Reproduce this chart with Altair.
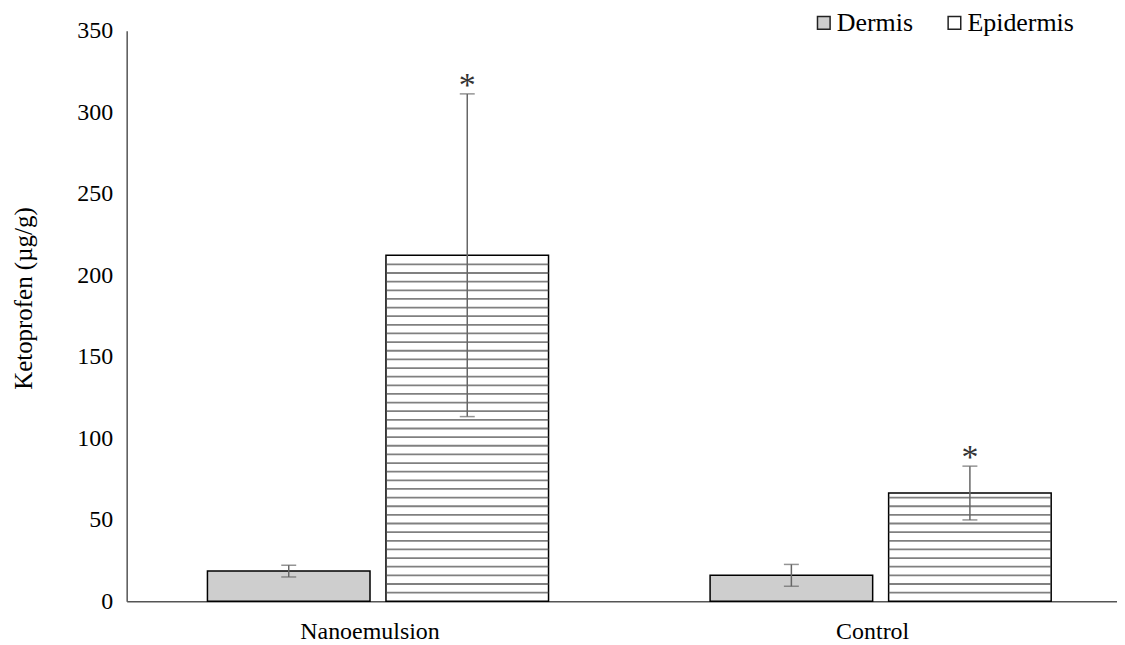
import altair as alt
import pandas as pd

categories = ["Nanoemulsion", "Nanoemulsion", "Control", "Control"]
tissues = ["Dermis", "Epidermis", "Dermis", "Epidermis"]
means = [18.5, 212.3, 15.9, 66.4]
sds = [3.6, 99.0, 6.7, 16.5]
stars = ["", "*", "", "*"]

group_order = ["Nanoemulsion", "Control"]
tissue_order = ["Dermis", "Epidermis"]
tick_values = [0, 50, 100, 150, 200, 250, 300, 350]

df = pd.DataFrame({
    "Category": categories,
    "Tissue": tissues,
    "Mean": means,
    "SD": sds,
    "Star": stars,
})
df["lo"] = df["Mean"] - df["SD"]
df["hi"] = df["Mean"] + df["SD"]

FONT = "Liberation Serif"
AX = "#555555"

x_scale = alt.Scale(domain=group_order, paddingInner=0.3214, paddingOuter=0.1458, align=0.551)
xo_scale = alt.Scale(domain=tissue_order, paddingInner=0.0894, paddingOuter=0)
y_scale = alt.Scale(domain=[0, 350], nice=False)

x_enc = alt.X("Category:N", scale=x_scale, sort=group_order,
              axis=alt.Axis(title=None, labelAngle=0, ticks=False, labelFontSize=24,
                            labelFont=FONT, labelColor="black", domainColor=AX,
                            domainWidth=1.5, labelPadding=18, labelOffset=-8))
xo_enc = alt.XOffset("Tissue:N", scale=xo_scale, sort=tissue_order)

bars = alt.Chart(df).mark_bar(stroke="black", strokeWidth=1.5).encode(
    x=x_enc,
    xOffset=xo_enc,
    y=alt.Y("Mean:Q", scale=y_scale,
            axis=alt.Axis(title="Ketoprofen (µg/g)", values=tick_values, grid=False,
                          ticks=False, labelFontSize=24, labelFont=FONT,
                          labelColor="black", titleFont=FONT, titleFontSize=25,
                          titleFontWeight="normal", titleColor="black",
                          titleX=-95, titleY=268, titleBaseline="alphabetic",
                          labelPadding=14, domainColor=AX, domainWidth=1.5)),
    fill=alt.Fill("Tissue:N", scale=alt.Scale(domain=tissue_order, range=["#cecece", "white"]),
                  legend=alt.Legend(title=None, orient="none", legendX=686, legendY=-21,
                                    direction="horizontal", symbolType="square",
                                    symbolSize=160, symbolStrokeColor="#222",
                                    symbolStrokeWidth=1.5, labelFont=FONT,
                                    labelFontSize=26, labelColor="black",
                                    labelOffset=0, columnPadding=28)),
)

stripes = alt.Chart(df).transform_filter(
    "datum.Tissue == 'Epidermis'"
).transform_calculate(
    ys="sequence(5.3, datum.Mean - 1, 5.3)"
).transform_flatten(["ys"]).mark_tick(size=163, thickness=1.8, color="#4a4a4a").encode(
    x=x_enc, xOffset=xo_enc, y=alt.Y("ys:Q", scale=y_scale)
)

err = alt.Chart(df).mark_rule(color="#666666", strokeWidth=1.5).encode(
    x=x_enc, xOffset=xo_enc, y=alt.Y("lo:Q", scale=y_scale), y2="hi:Q"
)
cap_hi = alt.Chart(df).mark_tick(size=15, thickness=1.5, color="#666666").encode(
    x=x_enc, xOffset=xo_enc, y=alt.Y("hi:Q", scale=y_scale)
)
cap_lo = alt.Chart(df).mark_tick(size=15, thickness=1.5, color="#666666").encode(
    x=x_enc, xOffset=xo_enc, y=alt.Y("lo:Q", scale=y_scale)
)
star_txt = alt.Chart(df).mark_text(font=FONT, fontSize=34, color="#333333",
                                   baseline="middle", dy=-8).encode(
    x=x_enc, xOffset=xo_enc, y=alt.Y("hi:Q", scale=y_scale), text="Star:N"
)

chart = alt.layer(bars, stripes, err, cap_hi, cap_lo, star_txt).properties(
    width=993, height=572,
    autosize=alt.AutoSizeParams(type="none"),
    padding={"left": 119, "top": 22, "right": 0, "bottom": 45},
    background="white",
).configure_view(stroke=None)

chart.save("out.html", embed_options={"renderer": "svg", "actions": False})
